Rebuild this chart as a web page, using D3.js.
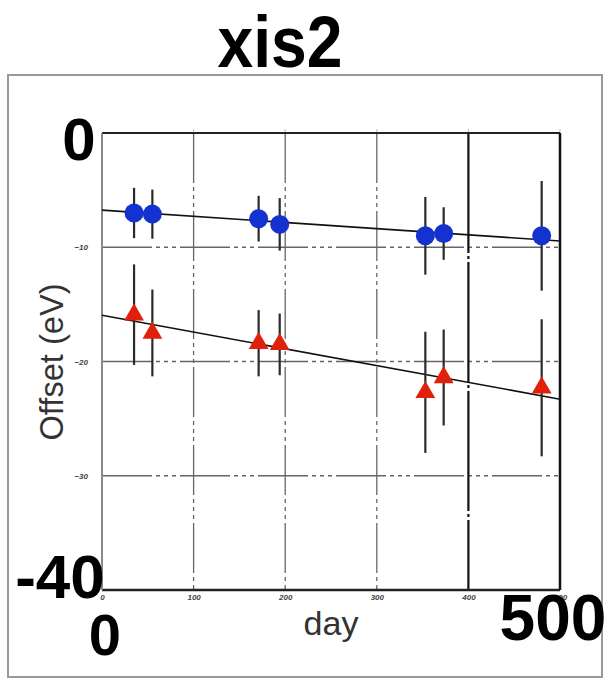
<!DOCTYPE html>
<html>
<head>
<meta charset="utf-8">
<script src="https://cdn.jsdelivr.net/npm/d3@7"></script>
<style>
  html, body { margin: 0; padding: 0; background: #fff; }
  svg { display: block; }
</style>
</head>
<body>
<svg id="chart" width="610" height="681"></svg>
<script>
// ---- data ----
const days = [35, 55, 171, 194, 353, 373, 480];
const blueValues = [-7.0, -7.1, -7.5, -8.0, -9.0, -8.8, -9.0];
const blueErrors = [2.2, 2.15, 2.0, 2.3, 3.4, 2.3, 4.8];
const redValues = [-15.9, -17.5, -18.4, -18.5, -22.7, -21.4, -22.3];
const redErrors = [4.4, 3.8, 2.9, 2.7, 5.3, 4.2, 6.0];
const fitDays = [0, 500];
const blueFit = [-6.75, -9.45];
const redFit = [-15.95, -23.3];
const xTicks = [0, 100, 200, 300, 400, 500];
const yTicks = [0, -10, -20, -30, -40];
const xGrid = [100, 200, 300, 400];
const yGrid = [-10, -20, -30];

const svg = d3.select("#chart");
const x = d3.scaleLinear().domain([0, 500]).range([102, 560]);
const y = d3.scaleLinear().domain([-40, 0]).range([590, 133]);

// outer frame
svg.append("rect").attr("x", 8).attr("y", 75).attr("width", 594).attr("height", 602)
  .attr("fill", "none").attr("stroke", "#999").attr("stroke-width", 2);

// title
svg.append("text").attr("x", 280).attr("y", 67).attr("text-anchor", "middle")
  .attr("font-family", "Liberation Sans, Arial, sans-serif").attr("font-weight", "bold")
  .attr("font-size", 72).attr("textLength", 125).attr("lengthAdjust", "spacingAndGlyphs")
  .text("xis2");

// gridlines
const dash = "50,4,4,4,4,4,4,4";
svg.append("g").selectAll("line").data(yGrid).join("line")
  .attr("x1", x(0)).attr("x2", x(500)).attr("y1", d => y(d)).attr("y2", d => y(d))
  .attr("stroke", "#666").attr("stroke-width", 1.3).attr("stroke-dasharray", dash);
svg.append("g").selectAll("line").data(xGrid).join("line")
  .attr("x1", d => x(d)).attr("x2", d => x(d)).attr("y1", y(0)).attr("y2", y(-40))
  .attr("stroke", d => d === 400 ? "#111" : "#666")
  .attr("stroke-width", d => d === 400 ? 2.2 : 1.3)
  .attr("stroke-dasharray", d => d === 400 ? "120,3,3,3" : dash);

// small top ticks
svg.append("g").selectAll("line").data(xGrid.concat([500])).join("line")
  .attr("x1", d => x(d)).attr("x2", d => x(d)).attr("y1", y(0) - 4).attr("y2", y(0))
  .attr("stroke", "#bbb").attr("stroke-width", 1);

// plot frame
svg.append("line").attr("x1", x(0)).attr("x2", x(500)).attr("y1", y(0)).attr("y2", y(0))
  .attr("stroke", "#222").attr("stroke-width", 2);
svg.append("line").attr("x1", x(0)).attr("x2", x(500)).attr("y1", y(-40)).attr("y2", y(-40))
  .attr("stroke", "#222").attr("stroke-width", 2.5);
svg.append("line").attr("x1", x(0)).attr("x2", x(0)).attr("y1", y(0)).attr("y2", y(-40))
  .attr("stroke", "#888").attr("stroke-width", 2);
svg.append("line").attr("x1", x(500)).attr("x2", x(500)).attr("y1", y(0)).attr("y2", y(-40))
  .attr("stroke", "#111").attr("stroke-width", 2.5);

// small axis tick labels via d3 axes
const xAxis = svg.append("g").attr("transform", `translate(0,${y(-40)})`)
  .call(d3.axisBottom(x).tickValues(xTicks).tickSize(0).tickPadding(4).tickFormat(d3.format("d")));
xAxis.select(".domain").remove();
xAxis.selectAll("text").attr("font-size", 8).attr("font-weight", "bold")
  .attr("font-style", "italic").attr("fill", "#444").attr("font-family", "Liberation Sans, Arial, sans-serif");
const yAxis = svg.append("g").attr("transform", `translate(${x(0) - 14},0)`)
  .call(d3.axisLeft(y).tickValues(yGrid).tickSize(0).tickPadding(0).tickFormat(d3.format("d")));
yAxis.select(".domain").remove();
yAxis.selectAll("text").attr("font-size", 8).attr("font-weight", "bold")
  .attr("font-style", "italic").attr("fill", "#444").attr("font-family", "Liberation Sans, Arial, sans-serif");

// axis titles
svg.append("text").attr("transform", "translate(63,362) rotate(-90)").attr("text-anchor", "middle")
  .attr("font-family", "Liberation Sans, Arial, sans-serif").attr("font-size", 33)
  .attr("textLength", 157).attr("lengthAdjust", "spacingAndGlyphs").attr("fill", "#333")
  .text("Offset (eV)");
svg.append("text").attr("x", 331).attr("y", 635).attr("text-anchor", "middle")
  .attr("font-family", "Liberation Sans, Arial, sans-serif").attr("font-size", 33)
  .attr("textLength", 55).attr("lengthAdjust", "spacingAndGlyphs").attr("fill", "#333")
  .text("day");

// fit lines
const line = d3.line().x(d => x(d[0])).y(d => y(d[1]));
svg.append("path").datum(fitDays.map((d, i) => [d, blueFit[i]])).attr("d", line)
  .attr("fill", "none").attr("stroke", "#111").attr("stroke-width", 1.6);
svg.append("path").datum(fitDays.map((d, i) => [d, redFit[i]])).attr("d", line)
  .attr("fill", "none").attr("stroke", "#111").attr("stroke-width", 1.6);

// error bars
function errBars(vals, errs) {
  svg.append("g").selectAll("line").data(days).join("line")
    .attr("x1", d => x(d)).attr("x2", d => x(d))
    .attr("y1", (d, i) => y(vals[i] + errs[i])).attr("y2", (d, i) => y(vals[i] - errs[i]))
    .attr("stroke", "#2a2a2a").attr("stroke-width", 2.2);
}
errBars(blueValues, blueErrors);
errBars(redValues, redErrors);

// markers
svg.append("g").selectAll("circle").data(days).join("circle")
  .attr("cx", d => x(d)).attr("cy", (d, i) => y(blueValues[i])).attr("r", 9.5)
  .attr("fill", "#1432d0");
const tri = d3.symbol().type(d3.symbolTriangle).size(170);
svg.append("g").selectAll("path").data(days).join("path")
  .attr("transform", (d, i) => `translate(${x(d)},${y(redValues[i])})`)
  .attr("d", tri).attr("fill", "#e0200a");

// big overlay labels
const big = (t, xx, yy, anchor, size) => svg.append("text").attr("x", xx).attr("y", yy)
  .attr("text-anchor", anchor).attr("font-family", "Liberation Sans, Arial, sans-serif")
  .attr("font-weight", "bold").attr("font-size", size).attr("fill", "#000").text(t);
big(yTicks[0], 79, y(0) + 27, "middle", 60);
big(yTicks[4], 60, y(-40) + 8, "middle", 62);
big(xTicks[0], 105, 655, "middle", 58);
big(xTicks[5], 553, 640, "middle", 64);
</script>
</body>
</html>
